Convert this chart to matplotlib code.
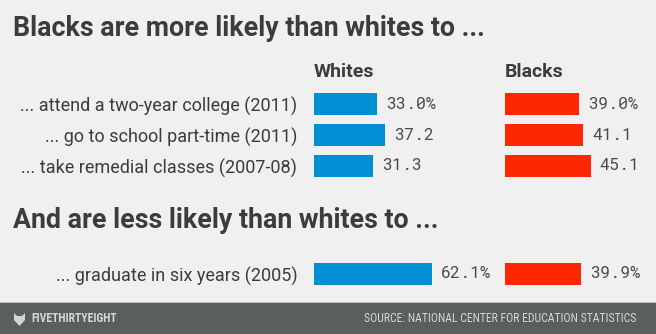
import matplotlib.pyplot as plt
from matplotlib import font_manager
from matplotlib.patches import Polygon, Rectangle

# values (percent) per row
more_labels = [
    "... attend a two-year college (2011)",
    "... go to school part-time (2011)",
    "... take remedial classes (2007-08)",
]
more_whites = [33.0, 37.2, 31.3]
more_blacks = [39.0, 41.1, 45.1]

less_labels = ["... graduate in six years (2005)"]
less_whites = [62.1]
less_blacks = [39.9]

BG = "#f0f0f0"
BLUE = "#008fd5"
RED = "#ff2700"
TEXT = "#3c3c3c"
FOOT = "#5b5e5e"
FOOT_TEXT = "#d5d5d5"

_installed = {f.name for f in font_manager.fontManager.ttflist}


def pick(*names):
    for n in names:
        if n in _installed:
            return [n, "DejaVu Sans"]
    return ["DejaVu Sans"]


COND = pick("Roboto Condensed", "Barlow Condensed", "Archivo Narrow",
            "PT Sans Narrow", "Liberation Sans Narrow")
SANS = pick("Roboto", "Inter", "Lato")
MONO = pick("Roboto Mono", "IBM Plex Mono", "Source Code Pro", "Liberation Mono")

W, H = 656, 334
PX_PER_UNIT = 1.9
COL_W = 170  # px


def fig_box(left, top, width, height):
    return [left / W, 1 - (top + height) / H, width / W, height / H]


def bar_block(fig, left, top, values, labels, color, pct_rows):
    n = len(values)
    ax = fig.add_axes(fig_box(left, top, COL_W, 31 * n))
    ax.set_facecolor("none")
    rows = list(range(n))
    ax.barh(rows, values, height=0.7, color=color)
    ax.set_xlim(0, COL_W / PX_PER_UNIT)
    ax.set_ylim(n - 0.5, -0.5)
    for s in ax.spines.values():
        s.set_visible(False)
    ax.set_xticks([])
    ax.set_yticks(rows)
    if labels:
        ax.set_yticklabels(labels, fontsize=13, color=TEXT, family=SANS)
        ax.tick_params(axis="y", length=0, pad=12)
    else:
        ax.set_yticklabels([])
        ax.tick_params(axis="y", length=0)
    for i, v in enumerate(values):
        txt = f"{v:.1f}%" if i in pct_rows else f"{v:.1f}"
        ax.annotate(txt, (v, i), xytext=(6.5, 0), textcoords="offset points",
                    va="center", ha="left", fontsize=12, color="#4a4a4a",
                    family=MONO, fontweight="light")
    return ax


fig = plt.figure(figsize=(W / 100, H / 100), dpi=100, facecolor=BG)

fig.text(13 / W, 1 - 29 / H, "Blacks are more likely than whites to ...",
         fontsize=19.3, fontweight="bold", color=TEXT, family=SANS, va="center")
fig.text(13 / W, 1 - 221 / H, "And are less likely than whites to ...",
         fontsize=19.3, fontweight="bold", color=TEXT, family=SANS, va="center")

fig.text(314 / W, 1 - 72 / H, "Whites", fontsize=14, fontweight="bold",
         color=TEXT, family=SANS, va="center")
fig.text(505 / W, 1 - 72 / H, "Blacks", fontsize=14, fontweight="bold",
         color=TEXT, family=SANS, va="center")

bar_block(fig, 314, 88.5, more_whites, more_labels, BLUE, [0])
bar_block(fig, 505, 88.5, more_blacks, None, RED, [0])
bar_block(fig, 314, 258.5, less_whites, less_labels, BLUE, [0])
bar_block(fig, 505, 258.5, less_blacks, None, RED, [0])

# footer band with logo mark
fig.patches.append(Rectangle((0, 0), 1, 31 / H, transform=fig.transFigure,
                             facecolor=FOOT, edgecolor="none", zorder=0))
fig.patches.append(Rectangle((0, 31 / H), 1, 1.5 / H, transform=fig.transFigure,
                             facecolor="#b9bbbb", edgecolor="none", zorder=0))
fox = [(14, 313), (17, 316), (22, 316), (25, 313), (25, 320), (19.5, 326), (14, 320)]
fig.patches.append(Polygon([(x / W, 1 - y / H) for x, y in fox], closed=True,
                           transform=fig.transFigure, facecolor=FOOT_TEXT,
                           edgecolor="none", zorder=1))
fig.text(31 / W, 15.5 / H, "FIVETHIRTYEIGHT", fontsize=8.5, fontweight="bold",
         color=FOOT_TEXT, family=COND, va="center")
fig.text(636 / W, 15.5 / H, "SOURCE: NATIONAL CENTER FOR EDUCATION STATISTICS",
         fontsize=8.5, color=FOOT_TEXT, family=COND, va="center", ha="right")

fig.savefig("out.png", dpi=100, facecolor=BG)
